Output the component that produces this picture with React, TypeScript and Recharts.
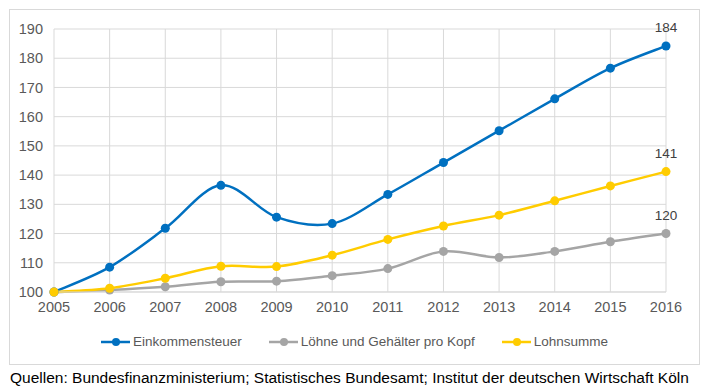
import React from 'react';
import {
  LineChart,
  Line,
  XAxis,
  YAxis,
  CartesianGrid,
  Legend,
  LabelList,
} from 'recharts';

const years = ['2005', '2006', '2007', '2008', '2009', '2010', '2011', '2012', '2013', '2014', '2015', '2016'];
const einkommensteuer = [100, 108.5, 121.8, 136.5, 125.6, 123.4, 133.4, 144.3, 155.2, 166.1, 176.6, 184.2];
const loehne = [100, 100.7, 101.8, 103.5, 103.7, 105.6, 108.0, 113.9, 111.8, 113.9, 117.2, 120.0];
const lohnsumme = [100, 101.3, 104.7, 108.8, 108.7, 112.6, 118.0, 122.6, 126.3, 131.2, 136.3, 141.2];
const yTicks = [100, 110, 120, 130, 140, 150, 160, 170, 180, 190];

const series = [
  { key: 'est', name: 'Einkommensteuer', color: '#0070C0' },
  { key: 'loehne', name: 'Löhne und Gehälter pro Kopf', color: '#A5A5A5' },
  { key: 'summe', name: 'Lohnsumme', color: '#FFCC00' },
];

const data = years.map((year, i) => ({
  year,
  est: einkommensteuer[i],
  loehne: loehne[i],
  summe: lohnsumme[i],
}));

const FONT = '"Liberation Sans", Arial, sans-serif';

// Excel-like smoothed line (Catmull-Rom through the points)
function smoothCurve(context: any) {
  let pts: [number, number][] = [];
  return {
    areaStart() {},
    areaEnd() {},
    lineStart() {
      pts = [];
    },
    point(x: number, y: number) {
      pts.push([+x, +y]);
    },
    lineEnd() {
      if (!pts.length) return;
      context.moveTo(pts[0][0], pts[0][1]);
      for (let i = 0; i < pts.length - 1; i++) {
        const p0 = pts[i - 1] || pts[i];
        const p1 = pts[i];
        const p2 = pts[i + 1];
        const p3 = pts[i + 2] || p2;
        const c1x = p1[0] + (p2[0] - p0[0]) / 6;
        const c1y = p1[1] + (p2[1] - p0[1]) / 6;
        const c2x = p2[0] - (p3[0] - p1[0]) / 6;
        const c2y = p2[1] - (p3[1] - p1[1]) / 6;
        context.bezierCurveTo(c1x, c1y, c2x, c2y, p2[0], p2[1]);
      }
    },
  };
}

const lastLabel = (props: any) => {
  const { x, y, value, index } = props;
  if (index !== years.length - 1) return null;
  return (
    <text x={x} y={y - 14} textAnchor="middle" fill="#404040" fontSize={13.5} fontFamily={FONT}>
      {Math.round(value)}
    </text>
  );
};

const renderLegend = () => (
  <div
    style={{
      display: 'flex',
      justifyContent: 'center',
      gap: 27,
      paddingTop: 12,
      fontFamily: FONT,
      fontSize: 13.5,
      color: '#595959',
    }}
  >
    {series.map((s) => (
      <div key={s.key} style={{ display: 'flex', alignItems: 'center' }}>
        <svg width={29} height={10} style={{ marginRight: 3 }}>
          <line x1={0} y1={5} x2={29} y2={5} stroke={s.color} strokeWidth={2.5} />
          <circle cx={15} cy={5} r={4} fill={s.color} />
        </svg>
        <span>{s.name}</span>
      </div>
    ))}
  </div>
);

export default function App() {
  return (
    <div style={{ fontFamily: FONT }}>
      <div style={{ marginLeft: 1, marginTop: 1, width: 689, height: 354, border: '1px solid #d9d9d9' }}>
        <LineChart width={689} height={354} data={data} margin={{ top: 19, right: 33, bottom: 12, left: 0 }}>
          <CartesianGrid stroke="#d9d9d9" strokeWidth={1} />
          <XAxis
            dataKey="year"
            axisLine={{ stroke: '#d9d9d9' }}
            tickLine={false}
            tickSize={0}
            tickMargin={10}
            height={30}
            tick={{ fill: '#595959', fontSize: 14.5, fontFamily: FONT }}
          />
          <YAxis
            domain={[100, 190]}
            ticks={yTicks}
            axisLine={false}
            tickLine={false}
            tickSize={0}
            tickMargin={11}
            width={44}
            tick={{ fill: '#595959', fontSize: 14.5, fontFamily: FONT }}
          />
          <Legend
            verticalAlign="bottom"
            height={30}
            content={renderLegend}
            wrapperStyle={{ left: 0, width: 689 }}
          />
          {series.map((s) => (
            <Line
              key={s.key}
              dataKey={s.key}
              name={s.name}
              type={smoothCurve as any}
              stroke={s.color}
              strokeWidth={2.5}
              dot={{ r: 4.5, fill: s.color, stroke: s.color, strokeWidth: 0 }}
              activeDot={false}
              isAnimationActive={false}
            >
              <LabelList dataKey={s.key} content={lastLabel} />
            </Line>
          ))}
        </LineChart>
      </div>
      <div style={{ marginTop: 4, marginLeft: 2, fontSize: 15.5, color: '#000' }}>
        Quellen: Bundesfinanzministerium; Statistisches Bundesamt; Institut der deutschen Wirtschaft Köln
      </div>
    </div>
  );
}
